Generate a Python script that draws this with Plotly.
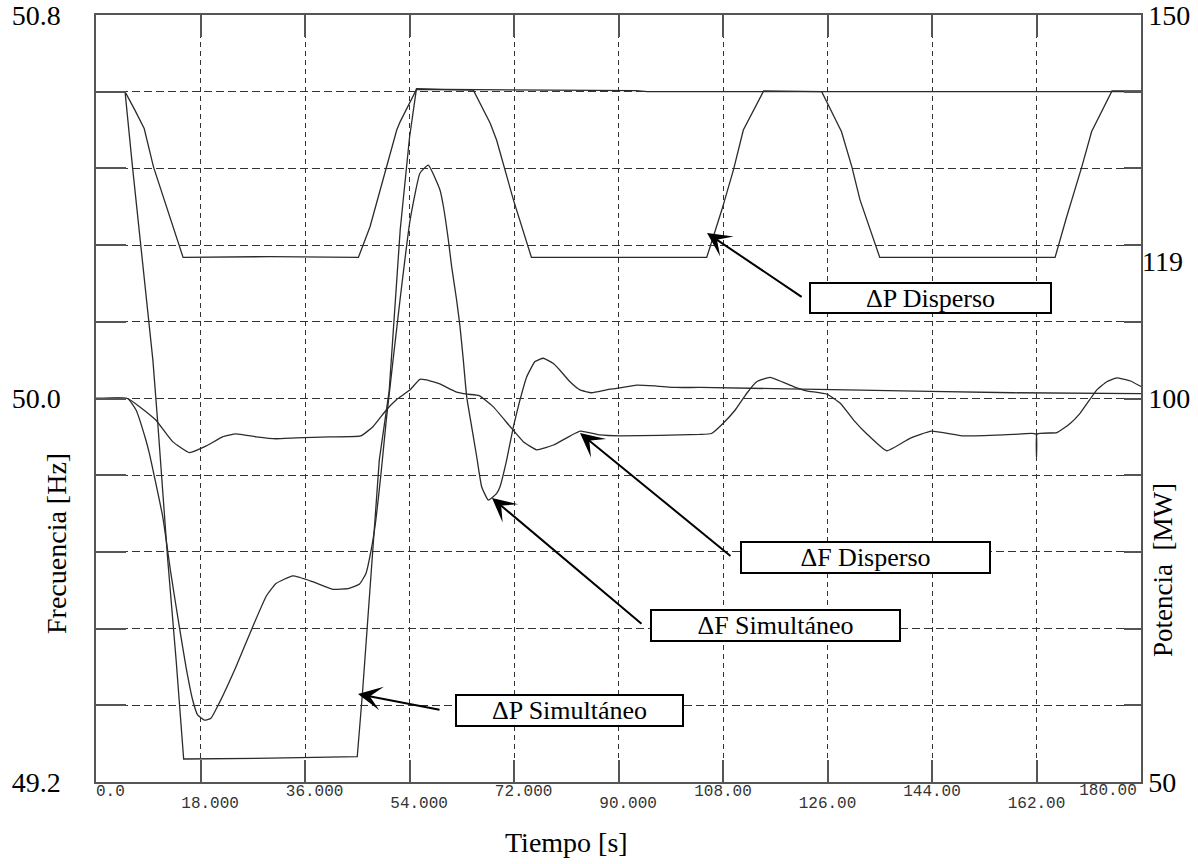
import plotly.graph_objects as go

# ---------------- data ----------------
# Delta P Disperso (MW, right axis)
t_dp_disp = [0, 5.0, 6.7, 8.3, 9.9, 11.6, 13.3, 15.0, 30.0, 45.2, 47.2, 50.1, 51.8, 52.4, 55.2,
             65.0, 67.9, 69.0, 71.9, 75.0, 105.2, 107.8, 109.8, 111.5, 115.0,
             125.0, 128.4, 130.2, 131.6, 135.0, 165.2, 167.2, 169.8, 171.5, 175.0, 180.0]
p_dp_disp = [140.0, 140.0, 137.6, 135.2, 130.2, 126.3, 122.4, 118.4, 118.5, 118.4, 122.4, 130.2, 135.0, 136.1, 140.3,
             140.2, 135.9, 133.7, 125.9, 118.4, 118.4, 124.6, 129.8, 135.0, 140.1,
             140.0, 134.8, 130.2, 125.9, 118.4, 118.4, 123.7, 130.2, 134.8, 140.1, 140.1]

# Delta P Simultaneo (MW, right axis)
t_dp_sim = [0, 5.0, 6.3, 8.7, 9.8, 10.6, 12.35, 13.8, 15.1, 30.0, 45.0, 45.9, 47.7, 48.8, 50.5,
            52.4, 54.0, 55.2, 60.0, 93.0, 95.0, 180.0]
p_dp_sim = [140.0, 140.0, 130.1, 113.3, 105.0, 97.2, 79.0, 65.9, 53.0, 53.1, 53.3, 61.6, 80.2, 92.0, 101.0,
            122.0, 134.0, 140.4, 140.3, 140.15, 140.0, 140.0]

# Delta F Disperso (Hz, left axis)
t_df_disp = [0, 5.45, 7.5, 10.3, 13.2, 16.1, 19.0, 21.8, 24.1, 27.6, 31.0, 34.4, 40.2, 45.6, 47.7, 50.0,
             51.7, 54.0, 55.8, 57.5, 59.1, 62.0, 64.0, 66.0, 68.4, 71.3, 73.6, 75.9, 78.8, 83.4, 86.8,
             90.3, 104.0, 106.0, 108.0, 110.1, 112.1, 113.8, 116.1, 120.1, 122.4, 125.9, 128.2, 130.5,
             132.7, 136.2, 140.2, 143.9, 149.4, 158.0, 161.9, 162.0, 162.1, 165.5, 167.8, 169.5, 172.4,
             174.1, 175.8, 178.1, 180.0]
f_df_disp = [50.0, 50.0, 49.983, 49.955, 49.910, 49.887, 49.901, 49.920, 49.926, 49.920, 49.916, 49.918,
             49.920, 49.922, 49.941, 49.976, 49.997, 50.017, 50.040, 50.037, 50.031, 50.014, 50.009,
             50.006, 49.983, 49.942, 49.910, 49.893, 49.903, 49.932, 49.924, 49.922, 49.925, 49.927,
             49.948, 49.976, 50.011, 50.035, 50.044, 50.025, 50.016, 50.009, 49.990, 49.955, 49.927,
             49.891, 49.917, 49.932, 49.922, 49.925, 49.926, 49.879, 49.926, 49.929, 49.948, 49.969,
             50.018, 50.035, 50.043, 50.037, 50.025]

# Delta F Simultaneo (Hz, left axis)
t_df_sim = [0, 5.45, 6.9, 8.6, 9.2, 11.5, 12.9, 14.35, 15.5, 16.65, 17.5, 18.66, 19.8, 21.2, 24.1, 27.0,
            29.3, 31.0, 33.9, 37.3, 40.8, 43.6, 45.4, 46.5, 47.4, 48.2, 49.1, 50.0, 52.36, 54.1, 55.8,
            57.24, 59.25, 59.85, 60.69, 61.26, 62.12, 62.70, 63.27, 63.85, 64.71, 65.57, 66.43, 67.58,
            69.02, 69.59, 70.74, 71.89, 73.03, 74.18, 75.62, 77.05, 78.78, 79.92, 81.64, 83.36, 85.37,
            87.96, 89.68, 93.13, 96.57, 100.0, 104.0, 129.3, 158.0, 180.0]
f_df_sim = [50.0, 50.0, 49.976, 49.913, 49.885, 49.753, 49.635, 49.524, 49.440, 49.371, 49.340, 49.329,
            49.333, 49.364, 49.440, 49.524, 49.587, 49.614, 49.630, 49.618, 49.602, 49.604, 49.613,
            49.635, 49.684, 49.746, 49.844, 49.955, 50.205, 50.372, 50.470, 50.487, 50.435, 50.400,
            50.331, 50.275, 50.205, 50.150, 50.080, 50.004, 49.941, 49.879, 49.816, 49.788, 49.802,
            49.816, 49.872, 49.941, 49.997, 50.045, 50.077, 50.084, 50.073, 50.059, 50.035, 50.018,
            50.012, 50.018, 50.021, 50.028, 50.026, 50.023, 50.023, 50.018, 50.012, 50.010]

# axis ticks / labels
x_grid_ticks = [0, 18, 36, 54, 72, 90, 108, 126, 144, 162, 180]
x_ticks_row1 = [0, 36, 72, 108, 144]
x_labels_row1 = ["0.0", "36.000", "72.000", "108.00", "144.00"]
x_ticks_end = [180]
x_labels_end = ["180.00"]
x_ticks_row2 = [18, 54, 90, 126, 162]
x_labels_row2 = ["18.000", "54.000", "90.000", "126.00", "162.00"]

freq_ticks = [49.2, 49.36, 49.52, 49.68, 49.84, 50.0, 50.16, 50.32, 50.48, 50.64, 50.8]
freq_labels = ["49.2", "", "", "", "", "50.0", "", "", "", "", "50.8"]
pow_ticks = [50, 60, 70, 80, 90, 100, 110, 120, 130, 140, 150]
pow_labels = ["50", "", "", "", "", "100", "", "", "", "", "150"]
pow_extra_tick = [119]
pow_extra_label = ["119"]

# callouts: label, arrow tip (t, Hz), arrow tail (t, Hz), box centre (t, Hz), box size px
callouts = [
    ("ΔP Disperso",   (105.25, 50.345), (121.8, 50.210), (143.74, 50.2097), (243, 32)),
    ("ΔF Disperso",   (83.37, 49.928),  (109.55, 49.669), (132.55, 49.6684), (251, 33)),
    ("ΔF Simultáneo", (68.21, 49.7925), (94.22, 49.5275), (117.04, 49.5265), (251, 33)),
    ("ΔP Simultáneo", (45.13, 49.3836), (59.43, 49.3502), (81.56, 49.349),   (229, 33)),
]

# ---------------- figure ----------------
NB = "\u00a0"
pad_row1 = [3, 2, 2, 0, 0]
pad_row2 = [2, 2, 2, 0, 0]

row1_text = []
for v in x_grid_ticks:
    if v in x_ticks_row1:
        i = x_ticks_row1.index(v)
        row1_text.append(NB * pad_row1[i] + x_labels_row1[i])
    else:
        row1_text.append("")
row2_text = [NB * n + l for l, n in zip(x_labels_row2, pad_row2)]

line_style = dict(color="#2b2b2b", width=1.3)
fig = go.Figure()
fig.add_trace(go.Scatter(x=t_df_disp, y=f_df_disp, mode="lines",
                         line=dict(line_style, shape="spline", smoothing=0.4),
                         name="ΔF Disperso", yaxis="y"))
fig.add_trace(go.Scatter(x=t_df_sim, y=f_df_sim, mode="lines",
                         line=dict(line_style, shape="spline", smoothing=0.4),
                         name="ΔF Simultáneo", yaxis="y"))
fig.add_trace(go.Scatter(x=t_dp_disp, y=p_dp_disp, mode="lines", line=line_style,
                         name="ΔP Disperso", yaxis="y2"))
fig.add_trace(go.Scatter(x=t_dp_sim, y=p_dp_sim, mode="lines", line=line_style,
                         name="ΔP Simultáneo", yaxis="y2"))
# empty traces so that the auxiliary label axes are rendered
fig.add_trace(go.Scatter(x=[None], y=[None], xaxis="x2", yaxis="y", mode="lines",
                         hoverinfo="skip", showlegend=False))
fig.add_trace(go.Scatter(x=[None], y=[None], xaxis="x3", yaxis="y", mode="lines",
                         hoverinfo="skip", showlegend=False))
fig.add_trace(go.Scatter(x=[None], y=[None], xaxis="x", yaxis="y3", mode="lines",
                         hoverinfo="skip", showlegend=False))

serif = "Liberation Serif, Times New Roman, serif"
mono = "Liberation Mono, DejaVu Sans Mono, monospace"
axcol = "#555555"
gridcol = "#333333"
xfont = dict(family=mono, size=16, color="#333333")
yfont = dict(family=serif, size=28, color="black")

fig.update_layout(
    width=1198, height=864,
    margin=dict(l=96, r=57, t=15, b=82, autoexpand=False),
    paper_bgcolor="white", plot_bgcolor="white",
    showlegend=False,
    xaxis=dict(range=[0, 180], tickmode="array", tickvals=x_grid_ticks, ticktext=row1_text,
               showgrid=True, gridcolor=gridcol, gridwidth=1, griddash="5px,4px",
               ticks="inside", ticklen=22, tickwidth=1.5, tickcolor=axcol,
               showline=True, linecolor=axcol, linewidth=1.5, mirror="ticks",
               tickfont=xfont, automargin=False,
               ticklabelstandoff=-7, ticklabeloverflow="allow", zeroline=False),
    xaxis2=dict(range=[0, 180], overlaying="x", anchor="y", side="bottom",
                tickmode="array", tickvals=x_ticks_row2, ticktext=row2_text,
                showgrid=False, showline=False, ticks="", zeroline=False,
                tickfont=xfont, automargin=False,
                ticklabelstandoff=9, ticklabeloverflow="allow"),
    xaxis3=dict(range=[0, 180], overlaying="x", anchor="y", side="bottom",
                tickmode="array", tickvals=x_ticks_end, ticktext=x_labels_end,
                showgrid=False, showline=False, ticks="", zeroline=False,
                tickfont=xfont, automargin=False, ticklabelshift=-33,
                ticklabelstandoff=-4, ticklabeloverflow="allow"),
    yaxis=dict(range=[49.2, 50.8], tickmode="array", tickvals=freq_ticks, ticktext=freq_labels,
               showgrid=True, gridcolor=gridcol, gridwidth=1, griddash="8px,4px",
               ticks="inside", ticklen=30, tickwidth=1.5, tickcolor=axcol,
               showline=True, linecolor=axcol, linewidth=1.5, automargin=False,
               tickfont=yfont, ticklabelstandoff=28, ticklabeloverflow="allow", zeroline=False),
    yaxis2=dict(range=[50, 150], overlaying="y", side="right", anchor="x",
                tickmode="array", tickvals=pow_ticks, ticktext=pow_labels,
                showgrid=False, ticks="inside", ticklen=17, tickwidth=1.5, tickcolor=axcol,
                showline=True, linecolor=axcol, linewidth=1.5, zeroline=False, automargin=False,
                tickfont=yfont, ticklabelstandoff=0, ticklabeloverflow="allow"),
    yaxis3=dict(range=[50, 150], overlaying="y", side="right", anchor="x",
                tickmode="array", tickvals=pow_extra_tick, ticktext=pow_extra_label,
                showgrid=False, ticks="", showline=False, zeroline=False, automargin=False,
                tickfont=yfont, ticklabelstandoff=0, ticklabelshift=8,
                ticklabeloverflow="allow"),
)

annotations = []
for label, tip, tail, centre, size in callouts:
    annotations.append(dict(
        x=tip[0], y=tip[1], xref="x", yref="y", ax=tail[0], ay=tail[1], axref="x", ayref="y",
        text="", showarrow=True, arrowhead=3, arrowsize=2.0, arrowwidth=2,
        arrowcolor="black", standoff=0, startstandoff=0))
    annotations.append(dict(
        x=centre[0], y=centre[1], xref="x", yref="y", text=label, showarrow=False,
        xanchor="center", yanchor="middle", width=size[0] - 4, height=size[1] - 4,
        bgcolor="white", bordercolor="black", borderwidth=2, borderpad=0,
        font=dict(family=serif, size=26, color="black")))

annotations += [
    dict(text="Tiempo [s]", xref="paper", yref="paper", x=0.4507, y=-0.079,
         showarrow=False, xanchor="center", yanchor="middle",
         font=dict(family=serif, size=28, color="black")),
    dict(text="Frecuencia [Hz]", xref="paper", yref="paper", x=-0.0383, y=0.3116,
         showarrow=False, xanchor="center", yanchor="middle", textangle=-90,
         font=dict(family=serif, size=28, color="black")),
    dict(text="Potencia" + NB + NB + "[MW]", xref="paper", yref="paper", x=1.0211, y=0.2764,
         showarrow=False, xanchor="center", yanchor="middle", textangle=-90,
         font=dict(family=serif, size=27, color="black")),
]
fig.update_layout(annotations=annotations)

fig.write_html("out.html")
